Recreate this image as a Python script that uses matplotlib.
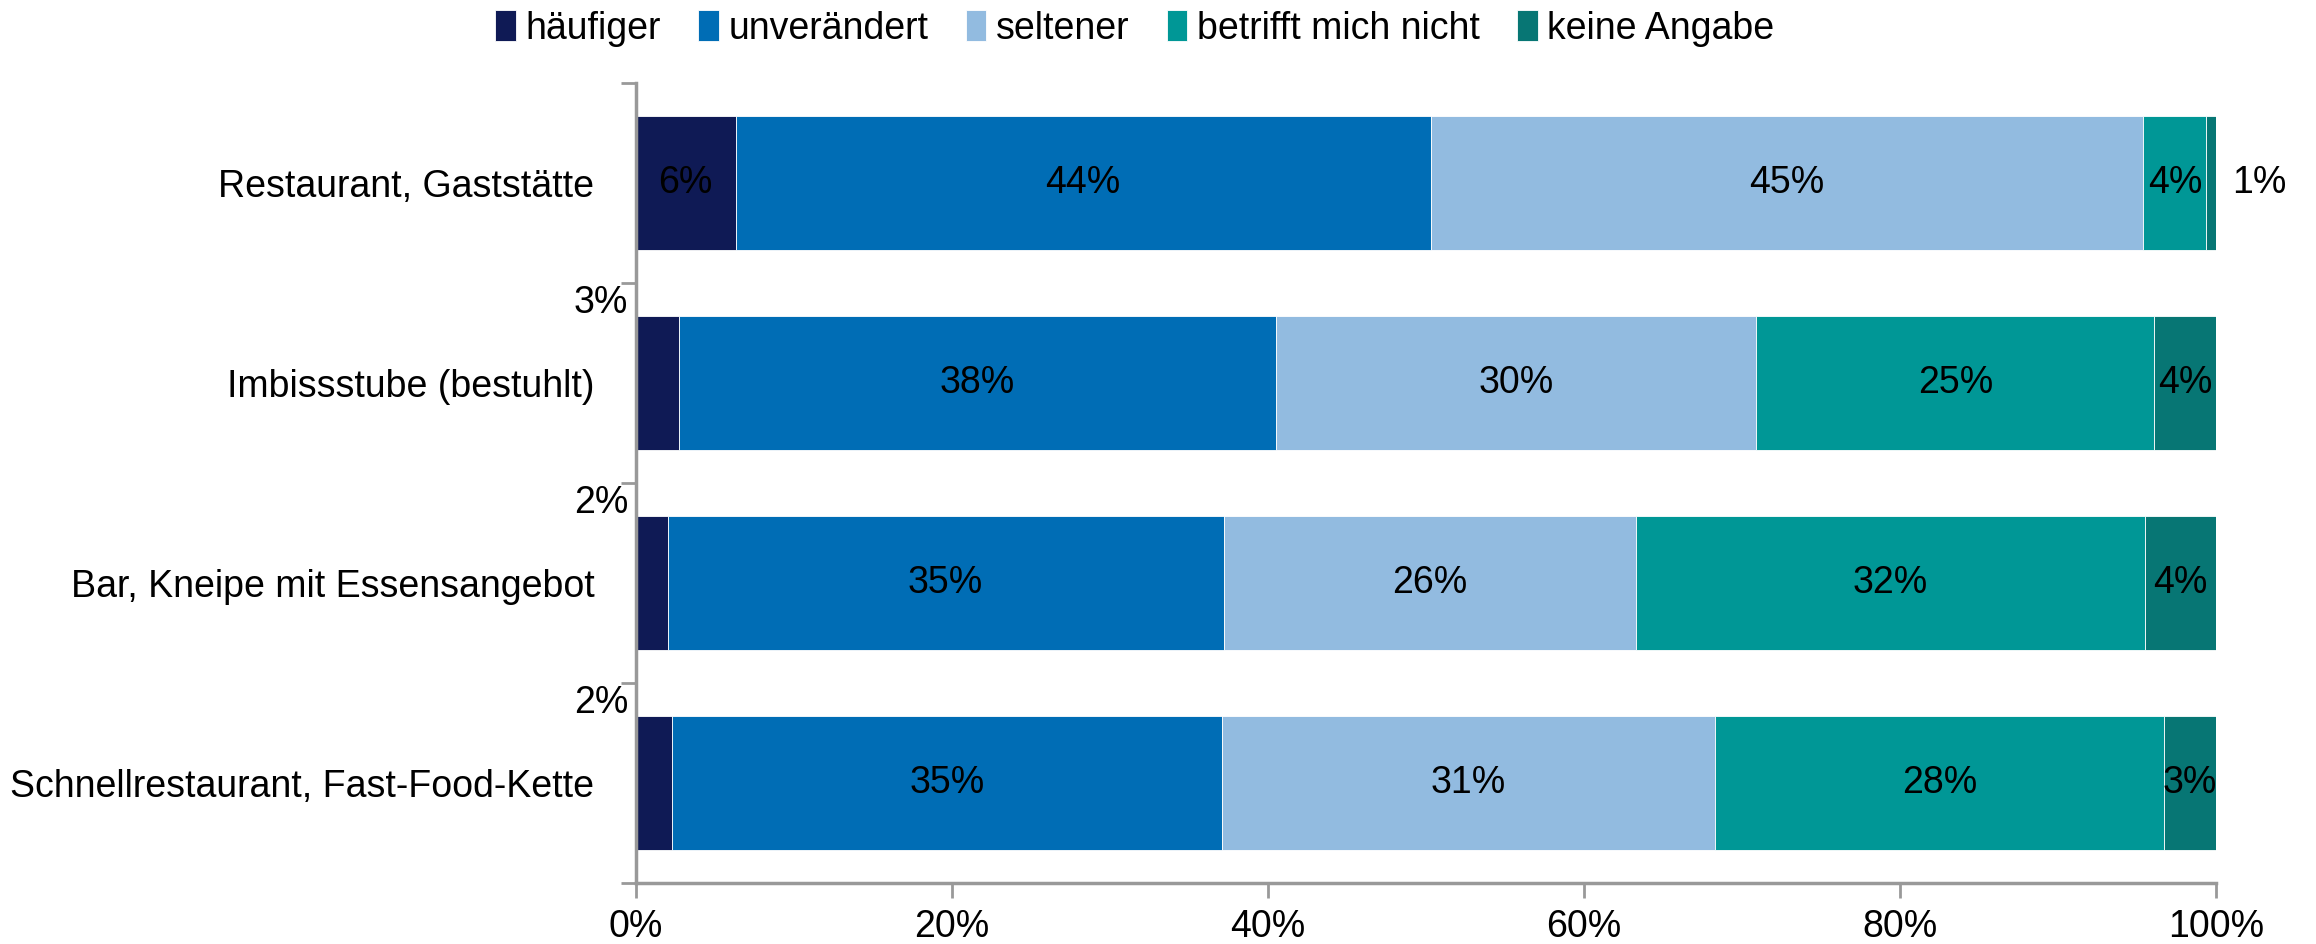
import matplotlib
matplotlib.use('Agg')
import matplotlib.pyplot as plt
import numpy as np

# data (percent)
categories = ["Restaurant, Gaststätte", "Imbissstube (bestuhlt)",
              "Bar, Kneipe mit Essensangebot", "Schnellrestaurant, Fast-Food-Kette"]
series_names = ["häufiger", "unverändert", "seltener", "betrifft mich nicht", "keine Angabe"]
haeufiger = [6.3, 2.7, 2.0, 2.3]
unveraendert = [44.0, 37.8, 35.2, 34.8]
seltener = [45.1, 30.4, 26.1, 31.2]
betrifft_nicht = [4.0, 25.2, 32.2, 28.4]
keine_angabe = [0.6, 3.9, 4.5, 3.3]
labels = [["6%", "44%", "45%", "4%", "1%"],
          ["3%", "38%", "30%", "25%", "4%"],
          ["2%", "35%", "26%", "32%", "4%"],
          ["2%", "35%", "31%", "28%", "3%"]]
x_ticks = [0, 20, 40, 60, 80, 100]

colors = ["#0F1A55", "#006DB5", "#92BBE0", "#009796", "#077674"]

plt.rcParams['font.family'] = ['Liberation Sans', 'DejaVu Sans']
FS = 27

fig = plt.figure(figsize=(23.16, 9.44), dpi=100)
ax = fig.add_axes([0.2746, 0.0646, 0.9568 - 0.2746, 0.912 - 0.0646])

data = [haeufiger, unveraendert, seltener, betrifft_nicht, keine_angabe]
y = np.arange(len(categories))
left = np.zeros(len(categories))
for i, (vals, name) in enumerate(zip(data, series_names)):
    vals = np.array(vals)
    ax.barh(y, vals, left=left, height=0.667, color=colors[i], label=name,
            edgecolor='white', linewidth=0.6)
    for j in range(len(categories)):
        txt = labels[j][i]
        if vals[j] < 1.5:
            # tiny segment: label to the right of the bar
            ax.text(left[j] + vals[j] + 1.0, y[j], txt, ha='left', va='center', fontsize=FS)
        elif vals[j] < 3.5 and i == 0:
            # small first segment: label above-left of the bar
            ax.text(-0.5, y[j] - 0.40, txt, ha='right', va='center', fontsize=FS)
        else:
            ax.text(left[j] + vals[j] / 2, y[j], txt, ha='center', va='center', fontsize=FS)
    left += vals

ax.set_xlim(0, 100)
ax.set_ylim(len(categories) - 0.5, -0.5)
ax.set_xticks(x_ticks)
ax.set_xticklabels([f"{t}%" for t in x_ticks], fontsize=FS)
ax.set_yticks(y)
ax.set_yticklabels(categories, fontsize=FS)
ax.set_yticks(np.arange(-0.5, len(categories), 1.0), minor=True)
ax.tick_params(axis='y', which='major', length=0, pad=30)
ax.tick_params(axis='y', which='minor', length=11, width=2, color='#999999')
ax.tick_params(axis='x', length=11, width=2, color='#999999', pad=8)

for s in ['top', 'right']:
    ax.spines[s].set_visible(False)
for s in ['left', 'bottom']:
    ax.spines[s].set_color('#999999')
    ax.spines[s].set_linewidth(2.5)

fig.legend(loc='upper center', bbox_to_anchor=(0.49, 1.025), ncol=5, frameon=False,
           fontsize=FS, handlelength=0.55, handleheight=0.9, handletextpad=0.25,
           columnspacing=1.0)

fig.savefig('out.png', dpi=100)
